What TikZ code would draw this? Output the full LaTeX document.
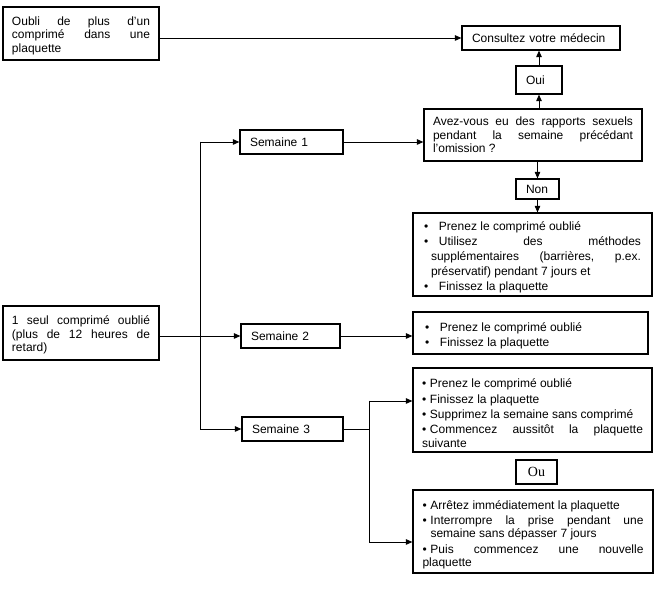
\documentclass[tikz,border=0pt]{standalone}
\usepackage{fontspec}
\setmainfont{Liberation Sans}
\newfontfamily\serifou{Liberation Serif}
\usetikzlibrary{arrows.meta}
\hyphenpenalty=10000
\exhyphenpenalty=10000
\frenchspacing
\newcommand{\bul}[3]{\par\noindent\hangindent=#2\hangafter=1\makebox[#1][l]{\textbullet}#3}
\newcommand{\psk}[1]{\setlength{\parskip}{#1}}
\begin{document}
\begin{tikzpicture}[x=1pt,y=-1pt,
  box/.style={draw, line width=1.2pt, inner sep=0pt, font=\fontsize{12}{13.6}\selectfont},
  boxb/.style={box, font=\fontsize{12}{15}\selectfont},
  conn/.style={line width=0.9pt},
  arr/.style={conn, -{Triangle[length=6.5pt,width=5.5pt]}}]
\useasboundingbox (0,0) rectangle (657,601);
\fill[white] (0,0) rectangle (657,601);

\node[box, minimum width=156pt, minimum height=53pt, text width=138pt, align=justify] (oubli) at (81,33.5)
  {\rule{0pt}{13pt}Oubli de plus d’un\linebreak comprimé dans une\linebreak plaquette};
\node[box, minimum width=158pt, minimum height=24pt, text width=138pt, align=left] (med) at (541,38)
  {Consultez votre médecin};
\node[box, minimum width=46pt, minimum height=28pt, text width=26pt, align=left] (oui) at (539,80) {Oui};
\node[box, minimum width=218pt, minimum height=52pt, text width=200pt, align=justify] (quest) at (533,135)
  {Avez-vous eu des rapports sexuels\linebreak pendant la semaine précédant\linebreak l’omission~?};
\node[box, minimum width=43pt, minimum height=20pt, text width=23pt, align=left] (non) at (537.5,189) {Non};
\node[boxb, minimum width=239pt, minimum height=83pt, text width=217pt, align=justify] (b1) at (532.5,254.5)
  {\bul{15pt}{7pt}{Prenez le comprimé oublié}
   \bul{15pt}{7pt}{Utilisez des méthodes\linebreak supplémentaires (barrières, p.ex.\linebreak préservatif) pendant 7 jours et}
   \bul{15pt}{7pt}{Finissez la plaquette}};

\node[box, minimum width=103pt, minimum height=24pt, text width=83pt, align=left] (s1) at (291.5,142) {Semaine 1};
\node[box, minimum width=156pt, minimum height=54pt, text width=138pt, align=justify] (seul) at (81,333)
  {\rule{0pt}{12.5pt}1 seul comprimé oublié\linebreak (plus de 12 heures de\linebreak retard)};
\node[box, minimum width=99pt, minimum height=24pt, text width=79pt, align=left] (s2) at (290.5,336) {Semaine 2};
\node[box, minimum width=101pt, minimum height=24pt, text width=81pt, align=left] (s3) at (292.5,429) {Semaine 3};

\node[boxb, minimum width=235pt, minimum height=42pt, text width=211pt, align=justify] (b2) at (530.5,333)
  {\bul{15pt}{7pt}{Prenez le comprimé oublié}
   \bul{15pt}{7pt}{Finissez la plaquette}};
\node[box, minimum width=239pt, minimum height=84pt, text width=221pt, align=justify] (b3a) at (532.5,410)
  {\psk{1.6pt}\bul{8pt}{8pt}{Prenez le comprimé oublié}
   \bul{8pt}{8pt}{Finissez la plaquette}
   \bul{8pt}{8pt}{Supprimez la semaine sans comprimé}
   \bul{8pt}{8pt}{Commencez aussitôt la plaquette\linebreak suivante}};
\node[box, minimum width=41pt, minimum height=24pt, font=\serifou\fontsize{14}{16}\selectfont] (ou) at (536.5,472) {Ou};
\node[box, minimum width=240pt, minimum height=83pt, text width=221pt, align=justify] (b3b) at (533,531.5)
  {\psk{1.6pt}\bul{8pt}{8pt}{Arrêtez immédiatement la plaquette}
   \bul{8pt}{8pt}{Interrompre la prise pendant une\linebreak semaine sans dépasser 7 jours}
   \bul{8pt}{8pt}{Puis commencez une nouvelle\linebreak plaquette}};

\draw[arr] (oubli.east |- med.west) -- (med.west);
\draw[arr] (quest.north -| oui.south) -- (oui.south);
\draw[arr] (oui.north) -- (oui.north |- med.south);
\draw[arr] (quest.south -| non.north) -- (non.north);
\draw[arr] (non.south) -- (non.south |- b1.north);
\draw[arr] (s1.east) -- (s1.east -| quest.west);

\coordinate (tr) at (200,0);
\draw[conn, line cap=rect] (tr |- s1.west) -- (tr |- s3.west);
\draw[arr] (tr |- s1.west) -- (s1.west);
\draw[arr] (tr |- s3.west) -- (s3.west);
\draw[arr] (seul.east |- s2.west) -- (s2.west);
\draw[arr] (s2.east) -- (s2.east -| b2.west);

\coordinate (k1) at (369,401);
\coordinate (k2) at (369,542);
\draw[conn] (s3.east) -- (s3.east -| k1);
\draw[conn, line cap=rect] (k1) -- (k2);
\draw[arr] (k1) -- (k1 -| b3a.west);
\draw[arr] (k2) -- (k2 -| b3b.west);
\end{tikzpicture}
\end{document}
